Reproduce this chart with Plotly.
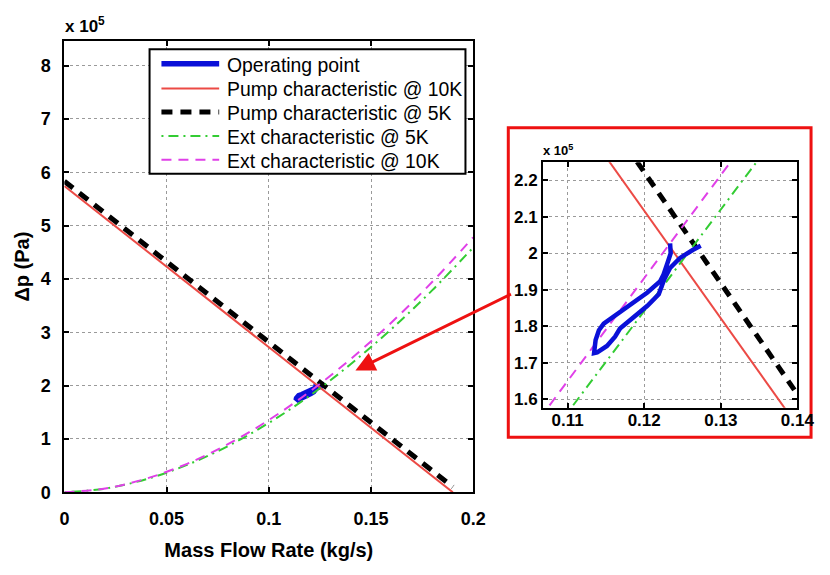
import plotly.graph_objects as go

# ---------------- data (x in kg/s, y in Pa) ----------------
op_x = [0.12738, 0.12633, 0.12464, 0.12338, 0.12261, 0.12190, 0.12042, 0.11830, 0.11684,
        0.11620, 0.11514, 0.11387, 0.11346, 0.11366, 0.11409, 0.11472, 0.11620, 0.11830,
        0.12042, 0.12210, 0.12253, 0.12304, 0.12346, 0.12338]
op_y = [202050, 200890, 198650, 195960, 192800, 188760, 185600, 182020, 179330,
        177090, 174560, 172780, 172600, 176170, 178870, 180670, 182910, 186070,
        189220, 192350, 194150, 197300, 200000, 202700]

pump10_x = [0.0, 0.19]
pump10_y = [574000, 0]
pump5_x = [0.0, 0.19]
pump5_y = [583000, 10000]

ext_x = [0.0, 0.02, 0.04, 0.06, 0.08, 0.10, 0.12, 0.14, 0.16, 0.18, 0.20]
ext10_y = [0, 7200, 25500, 53400, 90200, 135400, 188700, 249700, 318400, 394600, 478000]
ext5_y = [0, 6900, 24500, 51300, 86600, 130000, 181000, 240000, 306000, 379000, 459000]

# zoomed-in readings (inset)
in_x = [0.105, 0.14]
in_pump10_y = [256000, 152600]
in_pump5_y = [268000, 161300]
in_ext10_y = [150800, 249700]
in_ext5_y = [142300, 239900]

main_xticks = [0, 0.05, 0.1, 0.15, 0.2]
main_xtext = ["0", "0.05", "0.1", "0.15", "0.2"]
main_yticks = [0, 1e5, 2e5, 3e5, 4e5, 5e5, 6e5, 7e5, 8e5]
main_ytext = ["0", "1", "2", "3", "4", "5", "6", "7", "8"]
in_xticks = [0.11, 0.12, 0.13, 0.14]
in_xtext = ["0.11", "0.12", "0.13", "0.14"]
in_yticks = [1.6e5, 1.7e5, 1.8e5, 1.9e5, 2.0e5, 2.1e5, 2.2e5]
in_ytext = ["1.6", "1.7", "1.8", "1.9", "2", "2.1", "2.2"]

names = ["Operating point", "Pump characteristic @ 10K", "Pump characteristic @ 5K",
         "Ext characteristic @ 5K", "Ext characteristic @ 10K"]

# ---------------- styles ----------------
BLUE = "#0a10d8"
RED = "#ec4a45"
BLACK = "#000000"
GREEN = "#33cc33"
MAG = "#e040e8"
FONT = "Liberation Sans"

styles = [
    dict(color=BLUE, width=5.5),
    dict(color=RED, width=2),
    dict(color=BLACK, width=5, dash="11px,8px"),
    dict(color=GREEN, width=2, dash="2px,5px,10px,5px"),
    dict(color=MAG, width=2, dash="10px,7px"),
]

fig = go.Figure()

# main axes traces
fig.add_trace(go.Scatter(x=op_x, y=op_y, mode="lines", name=names[0], showlegend=False,
                         line=dict(color=BLUE, width=6), xaxis="x", yaxis="y"))
fig.add_trace(go.Scatter(x=pump10_x, y=pump10_y, mode="lines", name=names[1], showlegend=False,
                         line=styles[1], xaxis="x", yaxis="y"))
fig.add_trace(go.Scatter(x=pump5_x, y=pump5_y, mode="lines", name=names[2], showlegend=False,
                         line=styles[2], xaxis="x", yaxis="y"))
fig.add_trace(go.Scatter(x=ext_x, y=ext5_y, mode="lines", name=names[3], line_shape="spline",
                         showlegend=False, line=styles[3], xaxis="x", yaxis="y"))
fig.add_trace(go.Scatter(x=ext_x, y=ext10_y, mode="lines", name=names[4], line_shape="spline",
                         showlegend=False, line=styles[4], xaxis="x", yaxis="y"))

# inset traces
fig.add_trace(go.Scatter(x=in_x, y=in_pump10_y, mode="lines", showlegend=False,
                         line=styles[1], xaxis="x2", yaxis="y2"))
fig.add_trace(go.Scatter(x=in_x, y=in_pump5_y, mode="lines", showlegend=False,
                         line=styles[2], xaxis="x2", yaxis="y2"))
fig.add_trace(go.Scatter(x=in_x, y=in_ext5_y, mode="lines", showlegend=False,
                         line=styles[3], xaxis="x2", yaxis="y2"))
fig.add_trace(go.Scatter(x=in_x, y=in_ext10_y, mode="lines", showlegend=False,
                         line=styles[4], xaxis="x2", yaxis="y2"))
fig.add_trace(go.Scatter(x=op_x, y=op_y, mode="lines", showlegend=False,
                         line=dict(color=BLUE, width=4.5), xaxis="x2", yaxis="y2"))

W, H = 830, 575

def px(x):
    return x / W

def py(y):
    return 1 - y / H

def axis_common(tsize=17):
    return dict(showline=True, linecolor="black", linewidth=2, mirror="ticks",
                ticks="inside", ticklen=5, tickwidth=2, tickcolor="black",
                showgrid=True, gridcolor="#9a9a9a", gridwidth=1, griddash="dot",
                zeroline=False,
                tickfont=dict(family=FONT, size=tsize, color="black", weight="bold"))

fig.update_layout(
    width=W, height=H,
    margin=dict(l=0, r=0, t=0, b=0),
    paper_bgcolor="white", plot_bgcolor="white",
    font=dict(family=FONT, color="black"),
    showlegend=False,
    xaxis=dict(domain=[px(61), px(481)], range=[0, 0.2], anchor="y",
               tickvals=main_xticks, ticktext=main_xtext, ticklabelstandoff=9,
               title=dict(text="Mass Flow Rate (kg/s)",
                          font=dict(size=20, family=FONT, weight="bold"), standoff=15),
               **axis_common(18)),
    yaxis=dict(domain=[py(501), py(41.7)], range=[0, 846000], anchor="x",
               tickvals=main_yticks, ticktext=main_ytext, ticklabelstandoff=8,
               title=dict(text="Δp (Pa)", font=dict(size=20, family=FONT, weight="bold"),
                          standoff=6),
               **axis_common(18)),
    xaxis2=dict(domain=[px(552.7), px(814)], range=[0.1068, 0.14], anchor="y2",
                tickvals=in_xticks, ticktext=in_xtext, ticklabelstandoff=-4,
                **axis_common(17)),
    yaxis2=dict(domain=[py(415), py(165)], range=[157600, 225000], anchor="x2",
                tickvals=in_yticks, ticktext=in_ytext, ticklabelstandoff=0,
                **axis_common(17)),
)

# red zoom frame and arrow
fig.add_shape(type="rect", xref="paper", yref="paper",
              x0=px(517), x1=px(828), y0=py(445), y1=py(130),
              line=dict(color="#ee1111", width=3), layer="below")
fig.add_annotation(xref="paper", yref="paper", x=px(360), y=py(377),
                   ax=157, ay=-77, axref="pixel", ayref="pixel",
                   text="", showarrow=True, arrowhead=2, arrowsize=1.3,
                   arrowwidth=3, arrowcolor="#ee1111")

# exponent labels
fig.add_annotation(xref="paper", yref="paper", x=px(60), y=py(25), xanchor="left", yanchor="middle",
                   text="x 10<sup>5</sup>", showarrow=False,
                   font=dict(family=FONT, size=17, color="black", weight="bold"))
fig.add_annotation(xref="paper", yref="paper", x=px(551), y=py(153), xanchor="left", yanchor="middle",
                   text="x 10<sup>5</sup>", showarrow=False,
                   font=dict(family=FONT, size=13, color="black", weight="bold"))

# legend box (drawn like MATLAB's: long line samples)
leg_rows = [65, 90, 114, 138.3, 162.7]
fig.add_shape(type="rect", xref="paper", yref="paper",
              x0=px(148.5), x1=px(473), y0=py(176.7), y1=py(50),
              line=dict(color="black", width=2), fillcolor="white", layer="above")
for name, st, ry in zip(names, styles, leg_rows):
    fig.add_shape(type="line", xref="paper", yref="paper",
                  x0=px(160.7), x1=px(220), y0=py(ry), y1=py(ry),
                  line=dict(color=st["color"], width=st["width"], dash=st.get("dash", "solid")),
                  layer="above")
    fig.add_annotation(xref="paper", yref="paper", x=px(226), y=py(ry + 1),
                       xanchor="left", yanchor="middle", text=name, showarrow=False,
                       font=dict(family=FONT, size=19.4, color="black"))

fig.write_html("out.html",
               post_script="document.body.style.margin='0';document.body.style.overflow='hidden';")
